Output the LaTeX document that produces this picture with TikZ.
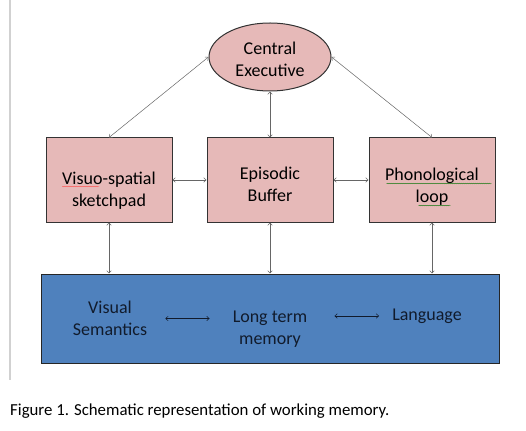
\documentclass[tikz,border=0pt]{standalone}
\usepackage{fontspec}
\setmainfont{Carlito}
\usetikzlibrary{shapes.geometric, arrows, arrows.meta, positioning, decorations.pathmorphing}
\definecolor{boxpink}{HTML}{E6B9B8}
\definecolor{ltmblue}{HTML}{4F81BD}
\definecolor{ltmtext}{HTML}{111B2C}
\tikzstyle{block} = [rectangle, 
			draw = black!80, 
			line width = 1pt, 
			fill = boxpink, 
			minimum width = 126pt, 
			minimum height = 84pt]
\tikzstyle{exec} = [ellipse, 
			draw = black!80, 
			line width = 1pt, 
			fill = boxpink, 
			minimum width = 122pt, 
			minimum height = 68pt]
\tikzstyle{store} = [rectangle, 
			draw = black!85, 
			line width = 1pt, 
			fill = ltmblue, 
			minimum width = 458pt, 
			minimum height = 89pt]
\tikzstyle{plain} = [align = center, 
			inner sep = 1pt]
\tikzstyle{link} = [<->, 
			>= {Straight Barb[length = 2.5pt, width = 4.5pt]}, 
			draw = black!60, 
			line width = 0.5pt]
\tikzstyle{squiggle} = [decorate, 
			decoration = {snake, amplitude = 0.4pt, segment length = 2pt}, 
			line width = 0.3pt]

\begin{document}
\begin{tikzpicture}[node distance = 1em, auto, font = \fontsize{18}{22}\selectfont]
	\useasboundingbox (0,0) rectangle (526pt,-430pt);
	\draw [black!18, line width = 2pt] (10pt,0) -- (10pt,-380pt);
	\node [exec] (central) at (270pt,-57pt) {};
	\node [block, below=46pt of central] (buffer) {};
	\node [block, left=34pt of buffer] (sketch) {};
	\node [block, right=35pt of buffer] (phono) {};
	\node [store, below=51pt of buffer] (memory) {};
	\node [plain] (centraltext) at ([yshift=-2pt]central.center) {Central\\Executive};
	\node [plain] (buffertext) at ([yshift=-4pt]buffer.center) {Episodic\\Buffer};
	\node [plain] (sketchtext) at ([yshift=-11pt]sketch.center) {Visuo-spatial\\sketchpad};
	\node [plain] (phonotext) at ([yshift=-7pt]phono.center) {Phonological\\loop};
	\node [plain, text=ltmtext] (visual) at ([xshift=-160pt]memory.center) {Visual\\Semantics};
	\node [plain, text=ltmtext] (longterm) at ([yshift=-11pt]memory.center) {Long term\\memory};
	\node [plain, text=ltmtext] (language) at ([xshift=157pt, yshift=2.5pt]memory.center) {Language};
	\draw [link] (central.west) -- (sketch.north);
	\draw [link] (central.east) -- (phono.north);
	\draw [link] (central) -- (buffer);
	\draw [link] (sketch) -- (buffer);
	\draw [link] (buffer) -- (phono);
	\draw [link] (sketch) -- (sketch |- memory.north);
	\draw [link] (buffer) -- (buffer |- memory.north);
	\draw [link] (phono) -- (phono |- memory.north);
	\draw [link, draw=ltmtext, shorten <= 17pt, shorten >= 22pt] (visual.east) -- (visual.east -| longterm.west);
	\draw [link, draw=ltmtext, shorten <= 26pt, shorten >= 12pt] (language.west -| longterm.east) -- (language.west);
	\draw [squiggle, red!70] ([xshift=-47pt, yshift=4.5pt]sketchtext.center) -- ([xshift=-10pt, yshift=4.5pt]sketchtext.center);
	\draw [squiggle, green!45!black] ([xshift=-45.5pt, yshift=3.5pt]phonotext.center) -- ([xshift=59.5pt, yshift=3.5pt]phonotext.center);
	\draw [squiggle, green!45!black] ([xshift=-13.5pt, yshift=-18.5pt]phonotext.center) -- ([xshift=18.5pt, yshift=-18.5pt]phonotext.center);
	\node [anchor=base west, inner sep=0pt, font=\fontsize{16.8}{20}\selectfont] (caption) at (10pt,-415pt) {Figure 1. Schematic representation of working memory.};
\end{tikzpicture}
\end{document}
